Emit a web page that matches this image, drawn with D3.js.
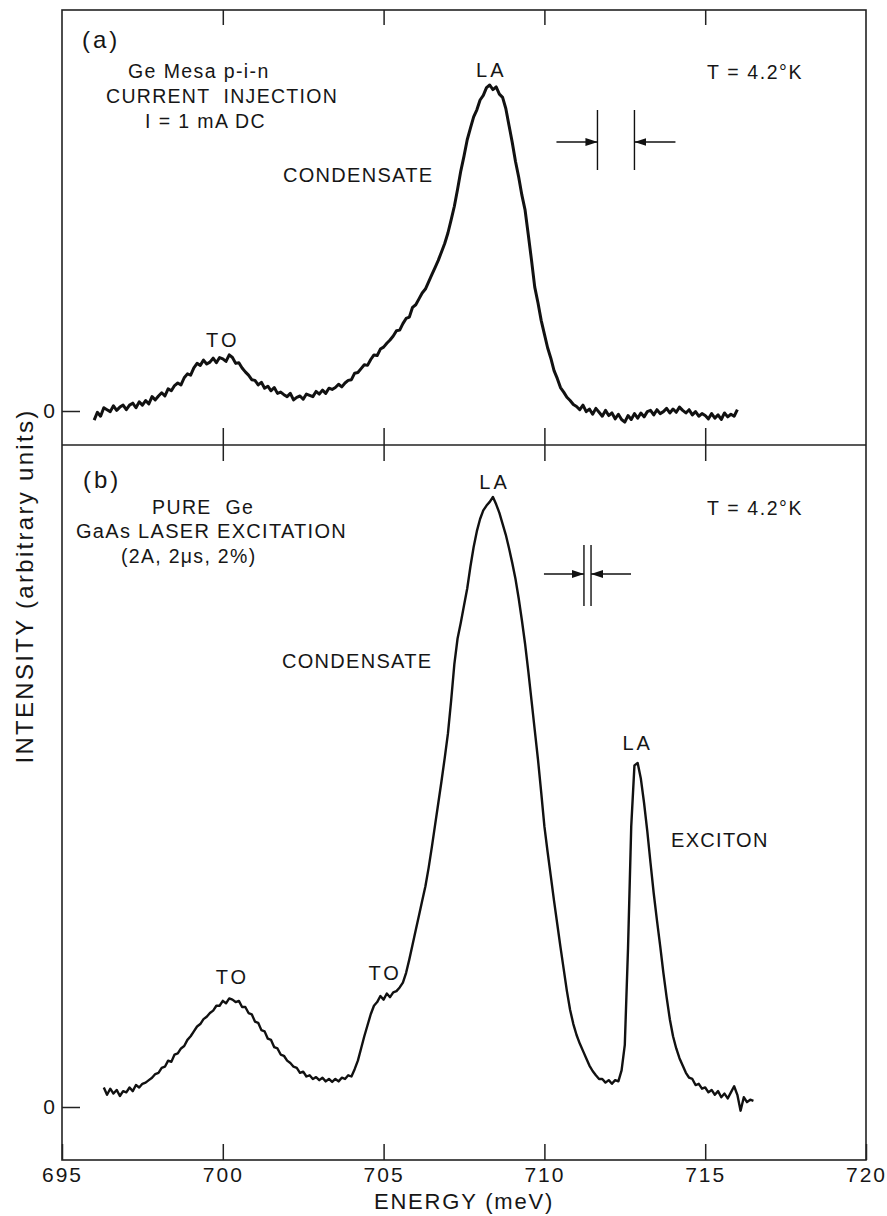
<!DOCTYPE html>
<html>
<head>
<meta charset="utf-8">
<script src="https://cdn.jsdelivr.net/npm/d3@7"></script>
<style>
  body { margin: 0; background: #fff; }
  svg text { font-family: "Liberation Sans", Arial, sans-serif; fill: #161616; }
</style>
</head>
<body>
<svg id="chart" width="887" height="1216"></svg>
<script>
// energy axis (meV)
const xTicks = [695, 700, 705, 710, 715, 720];

// panel (a): Ge mesa p-i-n, current injection -- samples every 0.1 meV from 696.0
const startA = 696.0;
const intensityA = [
  -2.8, -0.4, -1.6, 1.0, 0.4, -0.2, 1.6, 0.2, 1.2, 1.8,
  0.4, 1.8, 2.4, 1.0, 2.8, 1.8, 3.2, 2.2, 4.4, 3.4,
  4.6, 5.6, 4.6, 6.8, 6.2, 7.8, 8.6, 8.0, 10.2, 11.4,
  11.0, 13.2, 14.6, 14.0, 15.6, 14.4, 15.0, 16.2, 14.8, 16.4,
  16.0, 15.2, 17.2, 16.4, 14.6, 14.8, 13.2, 12.0, 11.0, 9.6,
  9.4, 8.0, 8.8, 7.0, 7.6, 6.2, 7.2, 5.4, 5.8, 5.0,
  4.4, 5.4, 3.4, 4.2, 4.6, 3.6, 5.2, 4.8, 4.4, 6.0,
  5.2, 6.4, 5.4, 7.0, 6.6, 7.2, 8.2, 7.4, 8.6, 9.4,
  9.6, 11.6, 11.8, 13.0, 14.2, 14.0, 15.8, 17.2, 17.0, 19.0,
  19.6, 20.8, 21.8, 23.0, 24.6, 24.8, 26.8, 28.4, 28.8, 31.8,
  32.6, 34.4, 36.2, 37.4, 39.6, 41.8, 44.0, 46.2, 48.8, 51.4,
  54.6, 58.6, 62.8, 68.0, 73.6, 78.2, 83.2, 86.8, 90.2, 92.4,
  95.4, 96.8, 99.2, 100.0, 98.6, 99.4, 97.2, 96.2, 92.8, 87.6,
  82.4, 76.6, 71.8, 66.2, 61.6, 54.0, 46.2, 38.0, 33.2, 27.8,
  23.6, 19.4, 16.2, 12.4, 10.0, 7.2, 5.8, 4.2, 3.2, 2.0,
  1.4, 0.4, 1.8, -0.2, 0.6, -1.0, 0.8, -0.4, -1.6, 0.2,
  -1.4, -0.6, -2.4, -1.0, -2.6, -3.4, -1.4, -2.6, -0.8, -2.2,
  -0.6, -1.8, -0.2, 0.2, -1.2, 0.4, -0.8, -0.2, 0.8, -0.6,
  0.6, -0.4, 1.2, 0.2, -0.6, 0.4, -1.2, -0.2, -1.6, -0.8,
  -1.4, -2.4, -0.8, -2.2, -1.2, -2.6, -0.6, -1.8, -1.0, -1.6,
  0.4
];

// panel (b): pure Ge, GaAs laser excitation -- samples every 0.1 meV from 696.3
const startB = 696.3;
const intensityB = [
  3.2, 2.0, 3.0, 2.2, 2.8, 1.8, 2.6,
  2.4, 3.2, 2.6, 3.6, 3.2, 3.8, 4.0, 4.4, 4.8, 5.4,
  5.6, 6.4, 6.6, 7.6, 7.4, 8.6, 8.8, 9.6, 10.0, 11.0,
  11.6, 12.4, 13.2, 13.6, 14.4, 14.8, 15.4, 15.8, 16.6, 16.6,
  17.4, 17.0, 17.8, 17.6, 17.2, 17.4, 16.4, 16.4, 15.4, 15.2,
  14.0, 13.8, 12.6, 12.4, 11.2, 11.0, 9.8, 9.6, 8.6, 8.4,
  7.6, 7.2, 6.6, 6.4, 5.6, 5.8, 5.0, 5.2, 4.6, 4.9,
  4.4, 4.8, 4.2, 4.6, 4.1, 4.6, 4.2, 4.8, 4.6, 5.2,
  5.0, 6.2, 7.6, 9.6, 11.6, 13.4, 15.2, 16.6, 17.2, 18.2,
  17.6, 18.6, 18.0, 18.8, 19.0, 19.6, 20.4, 22.0, 24.2, 26.6,
  29.0, 31.4, 33.8, 36.2, 39.2, 42.6, 46.2, 49.8, 53.4, 57.2,
  61.2, 66.6, 72.6, 76.8, 79.4, 82.2, 85.0, 88.6, 91.8, 94.4,
  96.4, 97.8, 98.6, 99.2, 100.0, 98.8, 97.4, 95.6, 93.8, 91.6,
  89.2, 86.6, 83.4, 79.8, 75.9, 71.4, 66.6, 61.8, 57.0, 51.6,
  46.0, 41.8, 37.8, 33.8, 30.0, 26.2, 22.6, 19.0, 15.9, 13.6,
  11.8, 10.4, 9.2, 8.0, 6.8, 5.9, 5.2, 4.6, 4.6, 4.0,
  4.4, 3.8, 4.4, 4.2, 6.0, 10.2, 26.0, 46.0, 56.0, 56.4,
  53.8, 49.8, 45.2, 40.0, 35.0, 30.6, 26.4, 22.0, 18.0, 14.4,
  11.6, 9.6, 8.0, 6.8, 5.6, 4.8, 4.6, 3.6, 3.8, 3.0,
  3.2, 2.4, 2.8, 2.0, 2.6, 1.6, 2.2, 1.4, 2.4, 3.4,
  2.0, -0.6, 1.6, 0.8, 1.2, 1.0
];

// resolution bars (meV)
const slitA = [711.65, 712.8];
const slitB = [711.23, 711.45];

const svg = d3.select("#chart");
const frameL = 62, frameR = 866, frameT = 10, frameMid = 445, frameB = 1160;

const x = d3.scaleLinear().domain([695, 720]).range([frameL, frameR]);
const yA = d3.scaleLinear().domain([0, 100]).range([411, 85]);
const yB = d3.scaleLinear().domain([0, 100]).range([1107, 497]);

const toPoints = (start, vals) => vals.map((v, i) => ({ e: +(start + i * 0.1).toFixed(2), v: v }));
const dataA = toPoints(startA, intensityA);
const dataB = toPoints(startB, intensityB);

// frame
svg.append("rect")
  .attr("x", frameL).attr("y", frameT)
  .attr("width", frameR - frameL).attr("height", frameB - frameT)
  .attr("fill", "none").attr("stroke", "#222").attr("stroke-width", 1.6);
svg.append("line")
  .attr("x1", frameL).attr("x2", frameR).attr("y1", frameMid).attr("y2", frameMid)
  .attr("stroke", "#222").attr("stroke-width", 1.6);

const inner = [700, 705, 710, 715];
function styleAxis(g) {
  g.select(".domain").remove();
  g.selectAll(".tick line").attr("stroke", "#222").attr("stroke-width", 1.5);
}

// bottom axis with labels
svg.append("g")
  .attr("transform", `translate(0,${frameB})`)
  .call(d3.axisBottom(x).tickValues(xTicks).tickSizeInner(-16).tickSizeOuter(0).tickPadding(7))
  .call(styleAxis)
  .call(g => g.selectAll(".tick text")
    .attr("font-size", 21).attr("letter-spacing", 2).attr("fill", "#161616")
    .attr("font-family", "Liberation Sans, Arial, sans-serif"));

// top and middle ticks
svg.append("g").attr("transform", `translate(0,${frameT})`)
  .call(d3.axisTop(x).tickValues(inner).tickSize(-15).tickFormat(""))
  .call(styleAxis);
svg.append("g").attr("transform", `translate(0,${frameMid})`)
  .call(d3.axisBottom(x).tickValues(inner).tickSize(16).tickFormat(""))
  .call(styleAxis);
svg.append("g").attr("transform", `translate(0,${frameMid})`)
  .call(d3.axisTop(x).tickValues(inner).tickSize(17).tickFormat(""))
  .call(styleAxis);

// zero ticks
[yA, yB].forEach(y => {
  svg.append("g").attr("transform", `translate(${frameL},0)`)
    .call(d3.axisLeft(y).tickValues([0]).tickSizeInner(-18).tickPadding(7))
    .call(styleAxis)
    .call(g => g.selectAll(".tick text")
      .attr("font-size", 21).attr("fill", "#161616")
      .attr("font-family", "Liberation Sans, Arial, sans-serif"));
});

// spectra
const lineA = d3.line().x(d => x(d.e)).y(d => yA(d.v));
const lineB = d3.line().x(d => x(d.e)).y(d => yB(d.v));
svg.append("path").datum(dataA).attr("d", lineA)
  .attr("fill", "none").attr("stroke", "#111").attr("stroke-width", 3)
  .attr("stroke-linejoin", "round");
svg.append("path").datum(dataB).attr("d", lineB)
  .attr("fill", "none").attr("stroke", "#111").attr("stroke-width", 2.4)
  .attr("stroke-linejoin", "round");

// arrowheads
svg.append("defs").append("marker")
  .attr("id", "head").attr("viewBox", "0 0 12 8")
  .attr("refX", 12).attr("refY", 4)
  .attr("markerWidth", 12).attr("markerHeight", 8)
  .attr("markerUnits", "userSpaceOnUse").attr("orient", "auto")
  .append("path").attr("d", "M0,0 L12,4 L0,8 Z").attr("fill", "#111");

function slit(pair, yTop, yBot, yArrow, len) {
  const g = svg.append("g").attr("stroke", "#111").attr("stroke-width", 1.4);
  pair.forEach(e => g.append("line")
    .attr("x1", x(e)).attr("x2", x(e)).attr("y1", yTop).attr("y2", yBot));
  g.append("line").attr("x1", x(pair[0]) - len).attr("x2", x(pair[0]))
    .attr("y1", yArrow).attr("y2", yArrow).attr("marker-end", "url(#head)");
  g.append("line").attr("x1", x(pair[1]) + len).attr("x2", x(pair[1]))
    .attr("y1", yArrow).attr("y2", yArrow).attr("marker-end", "url(#head)");
}
slit(slitA, 110, 170, 142, 41);
slit(slitB, 545, 606, 574, 40);

// text annotations
const notes = [
  { t: "(a)", x: 82, y: 48, s: 24, ls: 3 },
  { t: "Ge Mesa p-i-n", x: 128, y: 78, s: 19.5, ls: 1.4 },
  { t: "CURRENT  INJECTION", x: 106, y: 103, s: 19.5, ls: 1.3 },
  { t: "I = 1 mA DC", x: 145, y: 128, s: 19.5, ls: 1.4 },
  { t: "CONDENSATE", x: 283, y: 182, s: 20, ls: 1.3 },
  { t: "T = 4.2°K", x: 707, y: 79, s: 19.5, ls: 1.6 },
  { t: "(b)", x: 83, y: 488, s: 24, ls: 3 },
  { t: "PURE  Ge", x: 152, y: 514, s: 19.5, ls: 1.4 },
  { t: "GaAs LASER EXCITATION", x: 76, y: 538, s: 20, ls: 1.3 },
  { t: "(2A, 2μs, 2%)", x: 121, y: 563, s: 19.5, ls: 1.3 },
  { t: "T = 4.2°K", x: 707, y: 515, s: 19.5, ls: 1.6 },
  { t: "CONDENSATE", x: 282, y: 668, s: 20, ls: 1.3 },
  { t: "EXCITON", x: 671, y: 847, s: 20, ls: 1.3 }
];
svg.selectAll("text.note").data(notes).join("text")
  .attr("class", "note")
  .attr("x", d => d.x).attr("y", d => d.y)
  .attr("font-size", d => d.s).attr("letter-spacing", d => d.ls)
  .attr("xml:space", "preserve")
  .text(d => d.t);

// peak labels, centred on the peak energy
const peaks = [
  { t: "LA", e: 708.35, y: 77 },
  { t: "TO", e: 700.0, y: 347 },
  { t: "LA", e: 708.45, y: 489 },
  { t: "TO", e: 700.3, y: 984 },
  { t: "TO", e: 705.05, y: 980 },
  { t: "LA", e: 712.9, y: 750 }
];
svg.selectAll("text.peak").data(peaks).join("text")
  .attr("class", "peak")
  .attr("x", d => x(d.e)).attr("y", d => d.y)
  .attr("text-anchor", "middle")
  .attr("font-size", 20).attr("letter-spacing", 3)
  .text(d => d.t);

// axis titles
svg.append("text")
  .attr("x", (frameL + frameR) / 2).attr("y", 1209)
  .attr("text-anchor", "middle").attr("font-size", 22).attr("letter-spacing", 1.8)
  .text("ENERGY (meV)");
svg.append("text")
  .attr("transform", "translate(33,586) rotate(-90)")
  .attr("text-anchor", "middle").attr("font-size", 24).attr("letter-spacing", 2.3)
  .text("INTENSITY (arbitrary units)");
</script>
</body>
</html>
